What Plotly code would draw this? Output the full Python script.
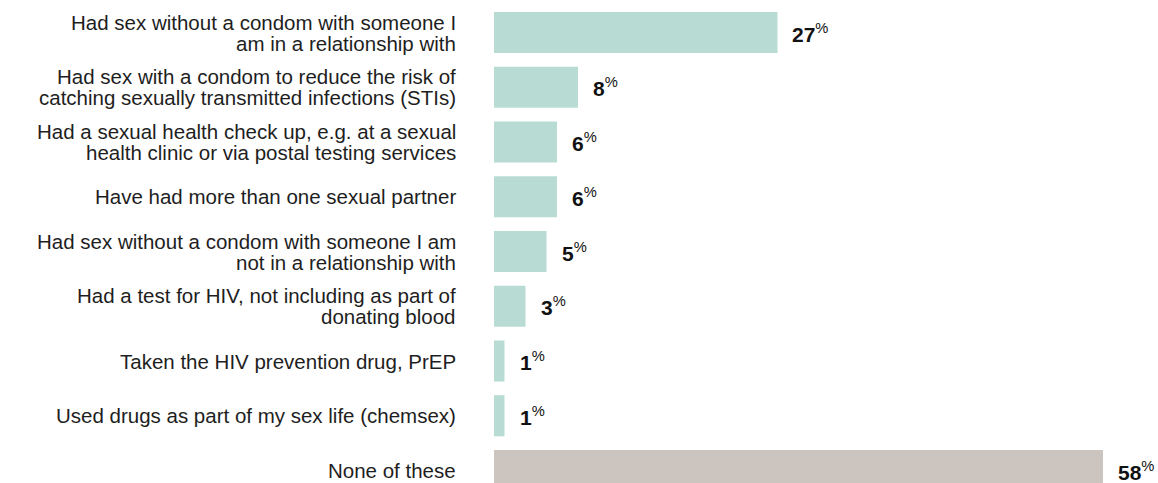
import plotly.graph_objects as go

categories = [
    "Had sex without a condom with someone I<br>am in a relationship with",
    "Had sex with a condom to reduce the risk of<br>catching sexually transmitted infections (STIs)",
    "Had a sexual health check up, e.g. at a sexual<br>health clinic or via postal testing services",
    "Have had more than one sexual partner",
    "Had sex without a condom with someone I am<br>not in a relationship with",
    "Had a test for HIV, not including as part of<br>donating blood",
    "Taken the HIV prevention drug, PrEP",
    "Used drugs as part of my sex life (chemsex)",
    "None of these",
]
values = [27, 8, 6, 6, 5, 3, 1, 1, 58]

TEAL = "#b8dcd3"
GREY = "#cbc4bf"
bar_colors = [TEAL] * 8 + [GREY]

FONT = "Liberation Sans, Arial, sans-serif"
LABEL_SIZE = 20.5
LINE_GAP = 21  # px between wrapped label lines

fig = go.Figure(
    go.Bar(
        x=values,
        y=categories,
        orientation="h",
        marker=dict(color=bar_colors, line=dict(width=0)),
        width=0.75,
        hoverinfo="skip",
    )
)

annotations = []
for cat, val in zip(categories, values):
    # category label, one annotation per line so the line spacing stays tight
    lines = cat.split("<br>")
    n = len(lines)
    for i, line in enumerate(lines):
        offset = ((n - 1) / 2 - i) * LINE_GAP
        annotations.append(dict(
            x=0, y=cat, xref="x", yref="y",
            text=line, showarrow=False,
            xanchor="right", yanchor="middle", align="right",
            xshift=-36, yshift=offset,
            font=dict(family=FONT, size=LABEL_SIZE, color="#1e1e1e"),
        ))
    # value label just past the bar end
    annotations.append(dict(
        x=val, y=cat, xref="x", yref="y",
        text=f"<b>{val}</b><sup>%</sup>", showarrow=False,
        xanchor="left", yanchor="middle",
        xshift=14, borderpad=0,
        font=dict(family=FONT, size=21, color="#111111"),
    ))

fig.update_layout(
    width=1158, height=483,
    margin=dict(l=494, r=0, t=0, b=0),
    paper_bgcolor="white", plot_bgcolor="white",
    showlegend=False,
    annotations=annotations,
    xaxis=dict(range=[0, 63.24], visible=False, fixedrange=True),
    yaxis=dict(
        type="category",
        categoryorder="array", categoryarray=categories,
        range=[8.228, -0.594],
        showticklabels=False, showgrid=False, zeroline=False,
        showline=False, ticks="", fixedrange=True,
    ),
    bargap=0.25,
)

fig.write_html("out.html", config={"displayModeBar": False})
